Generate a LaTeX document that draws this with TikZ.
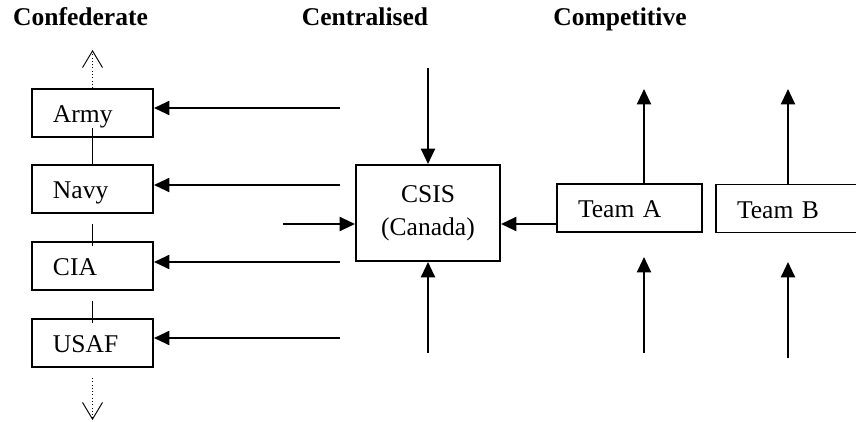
\documentclass[tikz,border=0pt]{standalone}
\usepackage{fontspec}
\setmainfont{Liberation Serif}
\usetikzlibrary{arrows.meta}
\tikzset{
    agency/.style={
        rectangle,
        draw=black,
        line width=1.7pt,
        text width=2.37cm,
        text height=0.63cm,
        text depth=0.06cm,
        minimum height=1.44cm,
        inner xsep=0.63cm,
        inner ysep=0pt,
        align=left,
        fill=white,
        font=\fontsize{21.8}{28.2}\selectfont
    },
    hub/.style={
        rectangle,
        draw=black,
        line width=1.7pt,
        minimum width=4.32cm,
        minimum height=2.88cm,
        inner sep=0pt,
        align=center,
        fill=white,
        font=\fontsize{21.8}{28.2}\selectfont
    },
    heading/.style={
        anchor=base,
        inner sep=0pt,
        font=\fontsize{21.8}{26}\selectfont\bfseries
    },
    wire/.style={
        draw=black,
        line width=1.7pt,
        -{Triangle[length=0.46cm, width=0.42cm]}
    },
    link/.style={
        draw=black,
        line width=1pt
    },
    outlink/.style={
        draw=black,
        line width=0.8pt,
        dotted,
        -{Straight Barb[length=0.5cm, width=0.6cm]}
    }
}

\begin{document}
\begin{tikzpicture}[x=0.03cm, y=-0.03cm]

\useasboundingbox (0,0) rectangle (856,422);

% Headings
\node[heading] (h_conf) at (80.5,26) {Confederate};
\node[heading] (h_cent) at (365,26) {Centralised};
\node[heading] (h_comp) at (620,26) {Competitive};

% Confederate column
\node[agency] (army) at (92.5,113) {Army};
\node[agency] (navy) at (92.5,189) {Navy};
\node[agency] (cia) at (92.5,266) {CIA};
\node[agency] (usaf) at (92.5,343) {USAF};

\draw[link] ([yshift=0.3cm]army.south) -- (navy.north);
\draw[link] ([yshift=-0.3cm]navy.south) -- ([yshift=-0.15cm]cia.north);
\draw[link] ([yshift=-0.3cm]cia.south) -- ([yshift=-0.15cm]usaf.north);

\coordinate (conf_up) at (92.5,50);
\coordinate (conf_down) at (92.5,420);
\draw[outlink] (army.north) -- (conf_up);
\draw[outlink] ([yshift=-0.3cm]usaf.south) -- (conf_down);

% Feeds into the confederate column
\coordinate (feed_army) at (340,108);
\coordinate (feed_navy) at (340,185);
\coordinate (feed_cia) at (340,262);
\coordinate (feed_usaf) at (340,338);
\draw[wire] (feed_army) -- (feed_army -| army.east);
\draw[wire] (feed_navy) -- (feed_navy -| navy.east);
\draw[wire] (feed_cia) -- (feed_cia -| cia.east);
\draw[wire] (feed_usaf) -- (feed_usaf -| usaf.east);

% Centralised
\node[hub] (csis) at (428,213) {CSIS\\(Canada)};

\coordinate (csis_top) at (428,68);
\coordinate (csis_bot) at (428,353);
\coordinate (csis_in) at (283,224);
\draw[wire] (csis_top) -- (csis.north);
\draw[wire] (csis_bot) -- (csis.south);
\draw[wire] (csis_in) -- (csis_in -| csis.west);

% Competitive
\node[agency, text width=3.09cm] (team_a) at (629.5,208) {Team A};
\node[agency, text width=3cm] (team_b) at (787,208.5) {Team B};

\draw[wire] (team_a.west |- csis_in) -- (csis.east |- csis_in);

\coordinate (a_up) at (644,89);
\coordinate (b_up) at (788,89);
\draw[wire] (team_a.north -| a_up) -- (a_up);
\draw[wire] (team_b.north -| b_up) -- (b_up);

\coordinate (a_low) at (644,353);
\coordinate (a_tip) at (644,257);
\coordinate (b_low) at (788,358);
\coordinate (b_tip) at (788,262);
\draw[wire] (a_low) -- (a_tip);
\draw[wire] (b_low) -- (b_tip);

\end{tikzpicture}
\end{document}
